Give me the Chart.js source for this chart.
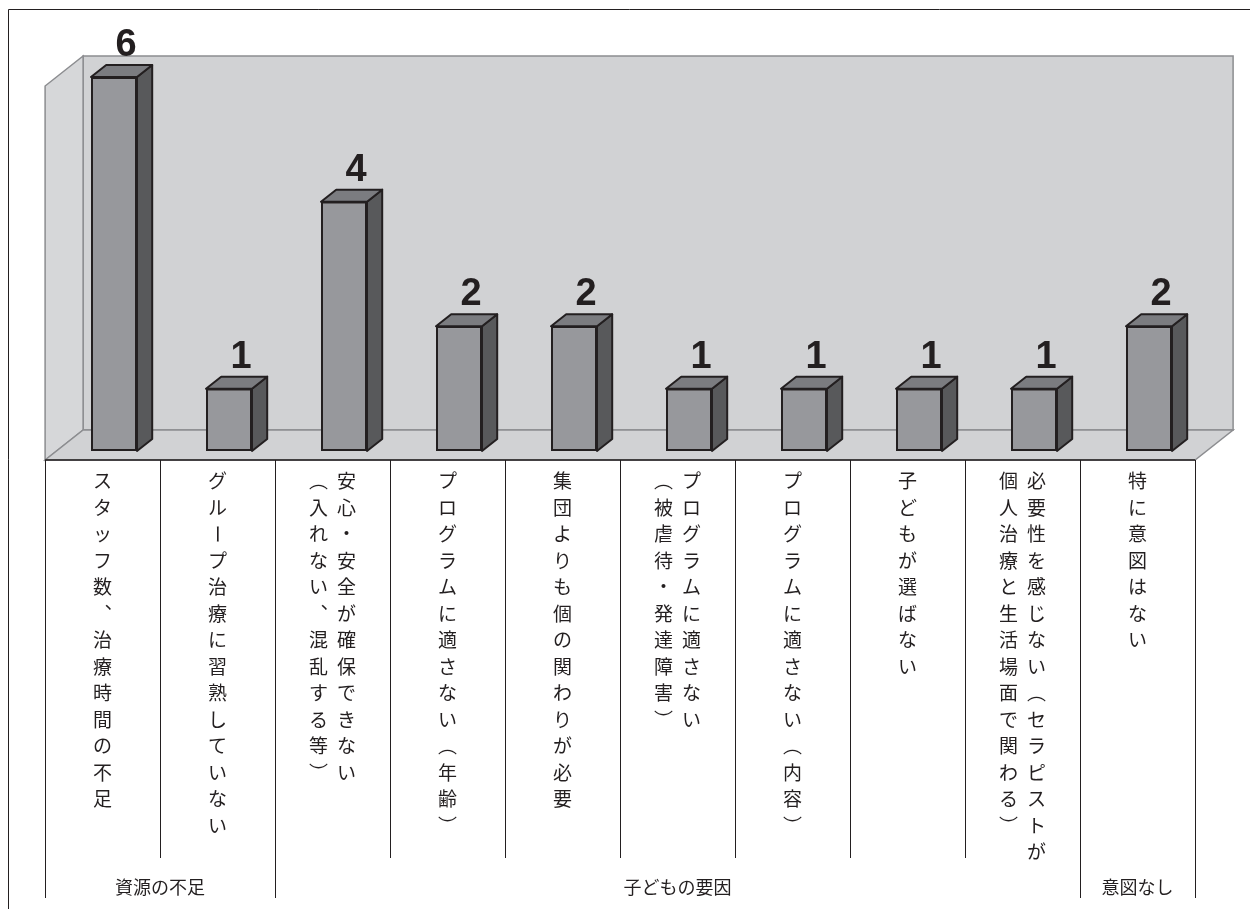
<!DOCTYPE html>
<html>
<head>
<meta charset="utf-8">
<script src="https://cdn.jsdelivr.net/npm/chart.js@4"></script>
<style>
  html, body { margin: 0; padding: 0; background: #fff; }
  #wrap { width: 1250px; height: 909px; }
</style>
</head>
<body>
<div id="wrap"><canvas id="chart" width="1250" height="909"></canvas></div>
<script>
// categories: each entry is a list of vertical columns, read right to left
const categories = [
    ['スタッフ数、治療時間の不足'],
    ['グループ治療に習熟していない'],
    ['安心・安全が確保できない', '（入れない、混乱する等）'],
    ['プログラムに適さない（年齢）'],
    ['集団よりも個の関わりが必要'],
    ['プログラムに適さない', '（被虐待・発達障害）'],
    ['プログラムに適さない（内容）'],
    ['子どもが選ばない'],
    ['必要性を感じない（セラピストが', '個人治療と生活場面で関わる）'],
    ['特に意図はない']
];
const values = [6, 1, 4, 2, 2, 1, 1, 1, 1, 2];
const groupNames = ['資源の不足', '子どもの要因', '意図なし'];
const groupFirst = [0, 2, 9];
const groupLast = [1, 8, 9];
const yMax = 6;

const INK = '#231f20';
const WALL = { x: 38, y: 30 };   // depth of the box
const BAR_FRONT = 0.3, BAR_BACK = 0.7;

// vertical writing forms
const vertForms = { '（': '︵', '）': '︶', '、': '︑' };

function drawVerticalColumn(ctx, text, cx, top, step) {
    let yy = top;
    for (const ch of text) {
        if (ch === 'ー') {
            ctx.save();
            ctx.translate(cx, yy);
            ctx.rotate(Math.PI / 2);
            ctx.fillText(ch, 0, 0);
            ctx.restore();
        } else {
            ctx.fillText(vertForms[ch] || ch, cx, yy);
        }
        yy += step;
    }
}

const box3d = {
    id: 'box3d',
    beforeDatasetsDraw(chart) {
        const { ctx, scales: { x, y } } = chart;
        const n = categories.length;
        const half = (x.getPixelForValue(1) - x.getPixelForValue(0)) / 2;
        const fx = -BAR_FRONT * WALL.x, fy = BAR_FRONT * WALL.y;
        const bx = (1 - BAR_FRONT) * WALL.x, by = -(1 - BAR_FRONT) * WALL.y;
        const left = x.getPixelForValue(0) - half;
        const right = x.getPixelForValue(n - 1) + half;
        const top = y.getPixelForValue(yMax);
        const base = y.getPixelForValue(0);

        ctx.save();
        // outer frame (top and left only visible)
        ctx.strokeStyle = INK;
        ctx.lineWidth = 1;
        ctx.beginPath();
        ctx.moveTo(1250, 9.5); ctx.lineTo(8.5, 9.5); ctx.lineTo(8.5, 909);
        ctx.stroke();

        // walls and floor
        ctx.fillStyle = '#d1d2d4';
        ctx.strokeStyle = '#8c8d90';
        ctx.lineWidth = 1.5;
        ctx.beginPath();
        ctx.rect(left + bx, top + by, right - left, base - top);
        ctx.fill(); ctx.stroke();

        ctx.fillStyle = '#d6d7d9';
        ctx.beginPath();
        ctx.moveTo(left + fx, top + fy);
        ctx.lineTo(left + bx, top + by);
        ctx.lineTo(left + bx, base + by);
        ctx.lineTo(left + fx, base + fy);
        ctx.closePath();
        ctx.fill(); ctx.stroke();

        ctx.fillStyle = '#d1d2d4';
        ctx.beginPath();
        ctx.moveTo(left + fx, base + fy);
        ctx.lineTo(left + bx, base + by);
        ctx.lineTo(right + bx, base + by);
        ctx.lineTo(right + fx, base + fy);
        ctx.closePath();
        ctx.fill(); ctx.stroke();

        // table under the floor
        const tTop = base + fy;
        ctx.strokeStyle = INK;
        ctx.lineWidth = 1.5;
        ctx.beginPath();
        ctx.moveTo(left + fx, tTop); ctx.lineTo(right + fx, tTop);
        ctx.stroke();
        ctx.lineWidth = 1;
        const groupEdges = new Set([0, n]);
        groupFirst.forEach(g => groupEdges.add(g));
        groupLast.forEach(g => groupEdges.add(g + 1));
        for (let k = 0; k <= n; k++) {
            const lx = Math.round(left + fx + k * 2 * half) + 0.5;
            ctx.beginPath();
            ctx.moveTo(lx, tTop);
            ctx.lineTo(lx, groupEdges.has(k) ? 898 : 858);
            ctx.stroke();
        }

        // vertical category labels
        ctx.fillStyle = INK;
        ctx.font = '19px "Noto Sans CJK JP"';
        ctx.textAlign = 'center';
        ctx.textBaseline = 'middle';
        categories.forEach((cols, i) => {
            const cx = x.getPixelForValue(i) + fx;
            cols.forEach((col, k) => {
                const colX = cx + ((cols.length - 1) / 2 - k) * 28;
                drawVerticalColumn(ctx, col, colX, 481, 26.5);
            });
        });

        // group labels
        ctx.font = '18px "Noto Sans CJK JP"';
        groupNames.forEach((name, g) => {
            const gx = (x.getPixelForValue(groupFirst[g]) + x.getPixelForValue(groupLast[g])) / 2 + fx;
            ctx.fillText(name, gx, 887);
        });

        // top and side faces of the bars
        const dx = (BAR_BACK - BAR_FRONT) * WALL.x, dy = (BAR_BACK - BAR_FRONT) * WALL.y;
        ctx.strokeStyle = INK;
        ctx.lineWidth = 2;
        ctx.lineJoin = 'round';
        chart.getDatasetMeta(0).data.forEach(bar => {
            const xl = bar.x - bar.width / 2, xr = bar.x + bar.width / 2;
            ctx.fillStyle = '#58595b';
            ctx.beginPath();
            ctx.moveTo(xr, bar.y);
            ctx.lineTo(xr + dx, bar.y - dy);
            ctx.lineTo(xr + dx, bar.base - dy);
            ctx.lineTo(xr, bar.base);
            ctx.closePath();
            ctx.fill(); ctx.stroke();
            ctx.fillStyle = '#7b7c80';
            ctx.beginPath();
            ctx.moveTo(xl, bar.y);
            ctx.lineTo(xl + dx, bar.y - dy);
            ctx.lineTo(xr + dx, bar.y - dy);
            ctx.lineTo(xr, bar.y);
            ctx.closePath();
            ctx.fill(); ctx.stroke();
        });
        ctx.restore();
    },
    afterDatasetsDraw(chart) {
        const { ctx } = chart;
        ctx.save();
        ctx.fillStyle = INK;
        ctx.font = 'bold 38px "Liberation Sans", Arial, sans-serif';
        ctx.textAlign = 'center';
        ctx.textBaseline = 'alphabetic';
        chart.getDatasetMeta(0).data.forEach((bar, i) => {
            ctx.fillText(String(values[i]), bar.x + 12, bar.y - 21);
        });
        ctx.restore();
    }
};

const ctx = document.getElementById('chart').getContext('2d');
new Chart(ctx, {
    type: 'bar',
    data: {
        labels: categories.map(c => c.join('')),
        datasets: [{
            data: values,
            backgroundColor: '#97989c',
            borderColor: INK,
            borderWidth: 2,
            borderSkipped: false,
            barPercentage: 0.4,
            categoryPercentage: 1
        }]
    },
    options: {
        responsive: false,
        animation: false,
        devicePixelRatio: 1,
        layout: { padding: { left: 56.5, right: 43.5, top: 77, bottom: 458 } },
        scales: {
            x: { display: false },
            y: { display: false, min: 0, max: yMax }
        },
        plugins: {
            legend: { display: false },
            tooltip: { enabled: false }
        }
    },
    plugins: [box3d]
});
</script>
</body>
</html>
